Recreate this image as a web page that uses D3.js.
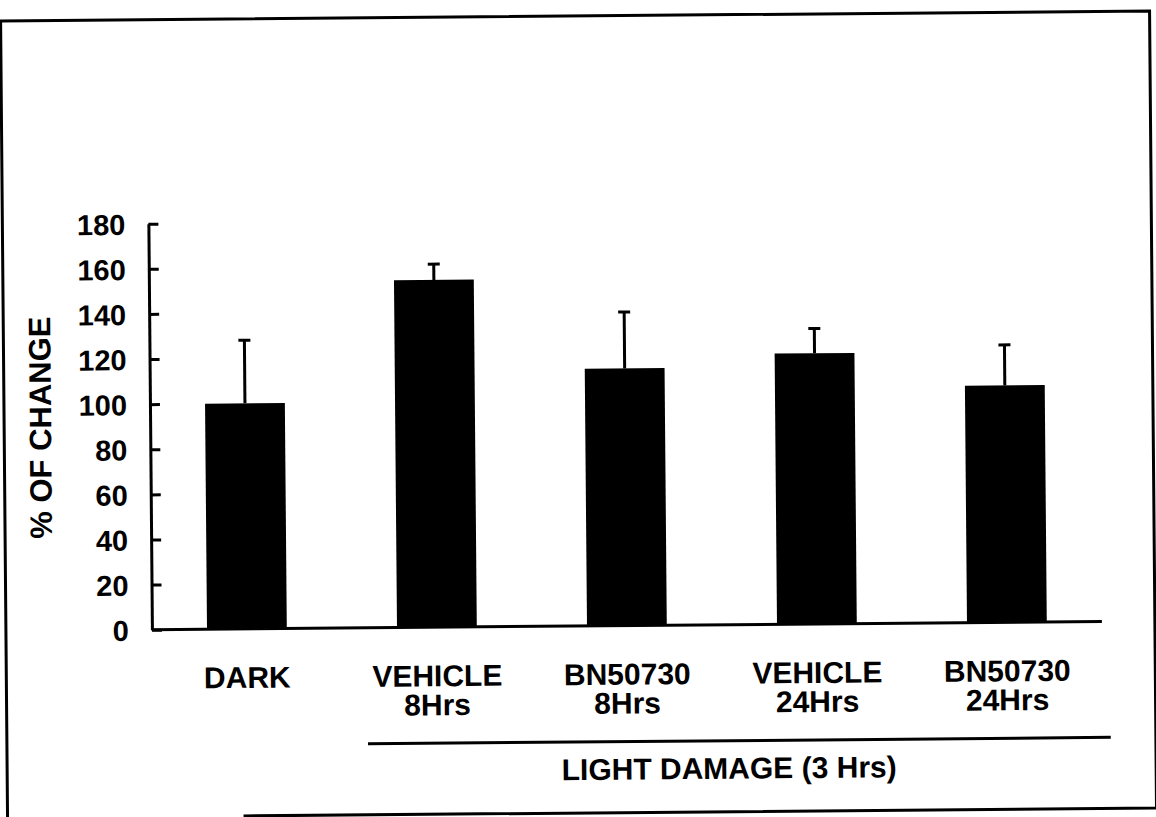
<!DOCTYPE html>
<html>
<head>
<meta charset="utf-8">
<script src="https://cdn.jsdelivr.net/npm/d3@7"></script>
<style>
  body { margin: 0; background: #fff; }
  svg { display: block; }
  text { font-family: Arial, "Liberation Sans", sans-serif; font-weight: bold; fill: #000; }
</style>
</head>
<body>
<div id="chart"></div>
<script>
/* -----------------    DATA     ------------------ */

const categories = ['DARK', 'VEHICLE 8Hrs', 'BN50730 8Hrs', 'VEHICLE 24Hrs', 'BN50730 24Hrs'];
const labelLines = [['DARK'], ['VEHICLE', '8Hrs'], ['BN50730', '8Hrs'], ['VEHICLE', '24Hrs'], ['BN50730', '24Hrs']];
const values = [100, 154, 114, 120, 105];
const errors = [28, 7, 25, 11, 18];
const yTicks = [0, 20, 40, 60, 80, 100, 120, 140, 160, 180];
const groupLabel = 'LIGHT DAMAGE (3 Hrs)';
const yLabel = '% OF CHANGE';

/* -----------------    SETTINGS     ------------------ */

const width = 1156;
const height = 817;
const plot = {left: 150, right: 1100, top: 220, bottom: 626};

const svg = d3.select('#chart')
    .append('svg')
    .attr('width', width)
    .attr('height', height);

// the scan is slightly tilted
const g = svg.append('g')
    .attr('transform', 'rotate(-0.5,' + (width / 2) + ',' + (height / 2) + ')');

// frame
g.append('path')
    .attr('d', 'M4,813 L4,16 L1153,16 L1153,813 M240,813 L1153,813')
    .attr('fill', 'none')
    .attr('stroke', '#000')
    .attr('stroke-width', 3);

const x = d3.scaleBand()
    .domain(categories)
    .range([plot.left, plot.right])
    .paddingInner(0.58)
    .paddingOuter(0.29);

const y = d3.scaleLinear()
    .domain([0, 180])
    .range([plot.bottom, plot.top]);

// bars
g.selectAll('.bar')
    .data(values)
    .enter()
    .append('rect')
    .attr('class', 'bar')
    .attr('x', (d, i) => x(categories[i]))
    .attr('y', d => y(d))
    .attr('width', x.bandwidth())
    .attr('height', d => y(0) - y(d))
    .attr('fill', '#000');

// error bars (upper only)
const err = g.selectAll('.err')
    .data(values)
    .enter()
    .append('g')
    .attr('class', 'err')
    .attr('stroke', '#000')
    .attr('stroke-width', 3);

err.append('line')
    .attr('x1', (d, i) => x(categories[i]) + x.bandwidth() / 2)
    .attr('x2', (d, i) => x(categories[i]) + x.bandwidth() / 2)
    .attr('y1', d => y(d))
    .attr('y2', (d, i) => y(d + errors[i]));

err.append('line')
    .attr('x1', (d, i) => x(categories[i]) + x.bandwidth() / 2 - 6)
    .attr('x2', (d, i) => x(categories[i]) + x.bandwidth() / 2 + 6)
    .attr('y1', (d, i) => y(d + errors[i]))
    .attr('y2', (d, i) => y(d + errors[i]));

// y axis
const yAxis = g.append('g')
    .attr('transform', 'translate(' + plot.left + ',0)')
    .call(d3.axisLeft(y).tickValues(yTicks).tickSizeInner(-10).tickSizeOuter(0).tickPadding(23));

yAxis.select('.domain').attr('stroke-width', 3);
yAxis.selectAll('.tick line').attr('stroke-width', 3);
yAxis.selectAll('.tick text')
    .attr('font-size', '29px')
    .attr('font-family', 'Arial, "Liberation Sans", sans-serif')
    .attr('font-weight', 'bold')
    .attr('dy', '0.36em');

// x axis
const xAxis = g.append('g')
    .attr('transform', 'translate(0,' + plot.bottom + ')')
    .call(d3.axisBottom(x).tickSize(0).tickFormat(''));

xAxis.select('.domain')
    .attr('stroke-width', 3)
    .attr('d', 'M' + plot.left + ',0H' + plot.right);

xAxis.selectAll('.tick')
    .append('text')
    .attr('text-anchor', 'middle')
    .attr('font-size', '30px')
    .selectAll('tspan')
    .data((d, i) => labelLines[i])
    .enter()
    .append('tspan')
    .attr('x', 0)
    .attr('y', (d, i) => 59 + i * 29)
    .text(d => d);

// group underline and label
const xStart = x(categories[1]) - 30;
const xEnd = x(categories[categories.length - 1]) + x.bandwidth() + 63;

g.append('line')
    .attr('x1', xStart)
    .attr('x2', xEnd)
    .attr('y1', 742)
    .attr('y2', 742)
    .attr('stroke', '#000')
    .attr('stroke-width', 3);

g.append('text')
    .attr('x', 726)
    .attr('y', 780)
    .attr('text-anchor', 'middle')
    .attr('font-size', '30px')
    .text(groupLabel);

// y label
g.append('text')
    .attr('transform', 'translate(51,423) rotate(-90)')
    .attr('text-anchor', 'middle')
    .attr('font-size', '31px')
    .text(yLabel);
</script>
</body>
</html>
